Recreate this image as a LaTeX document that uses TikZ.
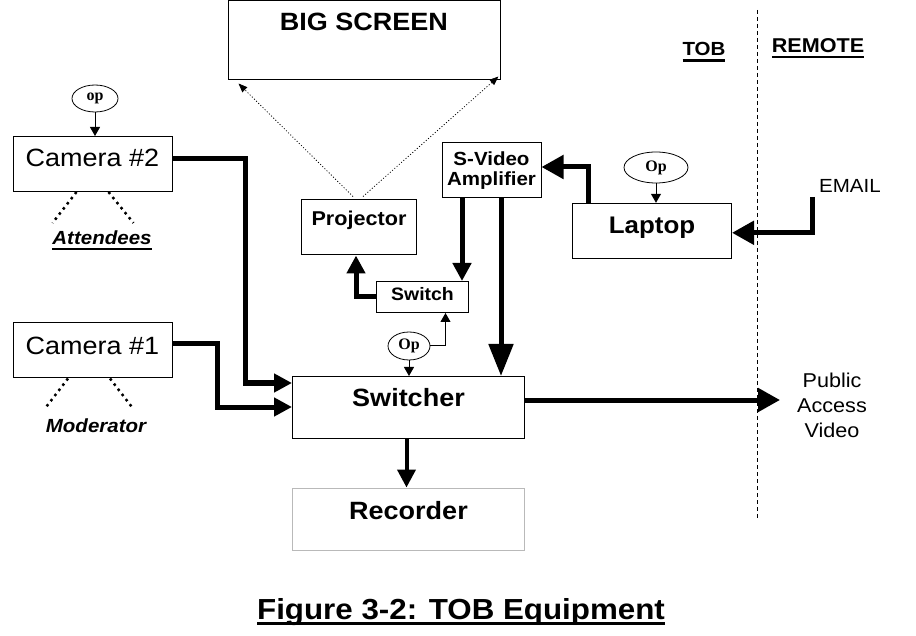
\documentclass[tikz,border=0pt]{standalone}
\usepackage{fontspec}
\setmainfont{Liberation Sans}[FakeStretch=1.08]
\newfontfamily\opfont{Liberation Serif}
\usetikzlibrary{arrows.meta,shapes.geometric}
\newcommand\pxsize[1]{\fontsize{#1}{#1}\selectfont}
\newcommand\ulin[3]{\sbox0{#3}\rlap{\rule[-#1]{\wd0}{#2}}\usebox0}

\begin{document}
\begin{tikzpicture}[x=1pt,y=-1pt,
  box/.style={draw,line width=1pt,inner sep=0pt,align=center},
  opbub/.style={draw,ellipse,line width=0.8pt,inner sep=0pt,font=\opfont\bfseries\pxsize{16}},
  feedline/.style={line width=5pt},
  wireline/.style={line width=1pt},
  camview/.style={line width=2.5pt,dash pattern=on 2.5pt off 4pt},
  beamline/.style={line width=0.8pt,dash pattern=on 1pt off 2pt},
  tipS/.style={-{Triangle[length=9pt,width=10pt]}},
  tipB/.style={-{Triangle[length=9pt,width=7pt]}},
  tipM/.style={-{Triangle[length=18pt,width=18pt]}},
  tipL/.style={-{Triangle[length=22pt,width=23pt]}},
  tipXL/.style={-{Triangle[length=32pt,width=24pt]}}]
\useasboundingbox (0,0) rectangle (916,636);
% screen, projector, switch
\node[box,minimum width=272pt,minimum height=79pt,font=\bfseries\pxsize{25},text height=17.9pt,text depth=37pt] (screen) at (364,40.5) {BIG SCREEN};
\node[box,minimum width=115pt,minimum height=55pt,font=\bfseries\pxsize{20},text height=14.3pt,text depth=18.4pt] (proj) at (359,227.5) {Projector};
\node[box,minimum width=99pt,minimum height=55pt,font=\bfseries\fontsize{19}{20}\selectfont] (svid) at (491.5,170.5) {S-Video\\Amplifier};
\node[box,minimum width=92pt,minimum height=31pt,font=\bfseries\pxsize{18},text height=12.9pt,text depth=6.6pt] (switch) at (422.5,297) {Switch};
% switcher and recorder
\node[box,minimum width=232pt,minimum height=62pt,font=\bfseries\pxsize{25},text height=17.9pt,text depth=20pt] (switcher) at (408.5,407.5) {Switcher};
\node[box,draw=gray!55,minimum width=232pt,minimum height=62pt,font=\bfseries\pxsize{25},text height=17.9pt,text depth=17pt] (rec) at (408.5,519) {Recorder};
% cameras
\node[box,minimum width=159pt,minimum height=55pt,font=\pxsize{25},text height=17.9pt,text depth=12pt] (cam2) at (92.5,164) {Camera \#2};
\node[box,minimum width=159pt,minimum height=55pt,font=\pxsize{25},text height=17.9pt,text depth=9.5pt] (cam1) at (92.5,350.5) {Camera \#1};
\node[font=\bfseries\itshape\pxsize{19},anchor=base] (att) at (102,245) {\ulin{5pt}{2pt}{Attendees}};
\node[font=\bfseries\itshape\pxsize{19},anchor=base] (mod) at (96,432) {Moderator};
% laptop
\node[box,minimum width=159pt,minimum height=55pt,font=\bfseries\pxsize{24},text height=17.2pt,text depth=11.6pt] (laptop) at (652,230.8) {Laptop};
% operators
\node[opbub,minimum width=46pt,minimum height=27pt] (op1) at (95,98.5) {op};
\node[opbub,minimum width=42pt,minimum height=28pt] (op2) at (409,346) {Op};
\node[opbub,minimum width=64pt,minimum height=31pt] (op3) at (656,167.5) {Op};
% right side texts
\node[font=\bfseries\pxsize{19},anchor=base] (tob) at (704,56) {\ulin{6pt}{3pt}{TOB}};
\node[font=\bfseries\pxsize{20},anchor=base] (remote) at (818,53) {\ulin{5.5pt}{2.7pt}{REMOTE}};
\node[font=\pxsize{19},anchor=base] (email) at (850,193) {EMAIL};
\node[font=\fontsize{20}{25}\selectfont,align=center] (pav) at (832,405) {Public\\Access\\Video};
\node[font=\bfseries\pxsize{29},anchor=base] (caption) at (461,619) {\ulin{6pt}{3pt}{Figure 3-2: TOB Equipment}};

% cameras to switcher
\coordinate (c2bend) at (245,383);
\coordinate (c1bend) at (217,407);
\draw[feedline,tipM] ([yshift=5pt]cam2.east) -| (c2bend) -- (switcher.west |- c2bend);
\draw[feedline,tipM] ([yshift=7pt]cam1.east) -| (c1bend) -- (switcher.west |- c1bend);
\draw[camview] ([xshift=-16pt]cam2.south) -- ++(-24,31);
\draw[camview] ([xshift=16pt]cam2.south) -- ++(25,31);
\draw[camview] ([xshift=-24.5pt]cam1.south) -- ++(-23,30);
\draw[camview] ([xshift=17.5pt]cam1.south) -- ++(23,30);
% operators
\draw[wireline,tipS] (op1.south) -- (op1.south |- cam2.north);
\draw[wireline,tipS] (op3.south) -- (op3.south |- laptop.north);
\draw[wireline,tipS] (op2.south) -- (op2.south |- switcher.north);
\draw[wireline,tipS] (op2.east) -| ([xshift=23pt]switch.south);
% projector to screen
\draw[beamline,tipB] ([xshift=-6pt,yshift=3pt]proj.north) -- ([xshift=11pt,yshift=-3pt]screen.south west);
\draw[beamline,tipB] ([xshift=4pt,yshift=3pt]proj.north) -- ([xshift=-2pt,yshift=4pt]screen.south east);
% s-video outputs
\draw[feedline,tipM] ([xshift=-29.5pt]svid.south) coordinate (s1) -- (s1 |- switch.north);
\draw[feedline,tipXL] ([xshift=9.5pt]svid.south) coordinate (s2) -- (s2 |- switcher.north);
\draw[feedline,tipM] (switch.west) -| ([xshift=-3pt]proj.south);
% laptop and email
\coordinate (lapbend) at (588,167);
\draw[feedline,tipL] (lapbend |- laptop.north) -- (lapbend) -- (svid.east |- lapbend);
\coordinate (mail) at (812,197);
\draw[feedline,tipL] (mail) |- ([yshift=-2pt]laptop.east);
% switcher outputs
\coordinate (pavin) at (780,400);
\draw[feedline,tipL] (switcher.east |- pavin) -- (pavin);
\draw[line width=4pt,tipM] ([xshift=-2pt]switcher.south) coordinate (s3) -- (s3 |- rec.north);
% TOB / REMOTE boundary
\coordinate (bndtop) at (757,10);
\coordinate (bndbot) at (757,520);
\draw[line width=1pt,dash pattern=on 4pt off 3pt] (bndtop) -- (bndbot);
\end{tikzpicture}
\end{document}
